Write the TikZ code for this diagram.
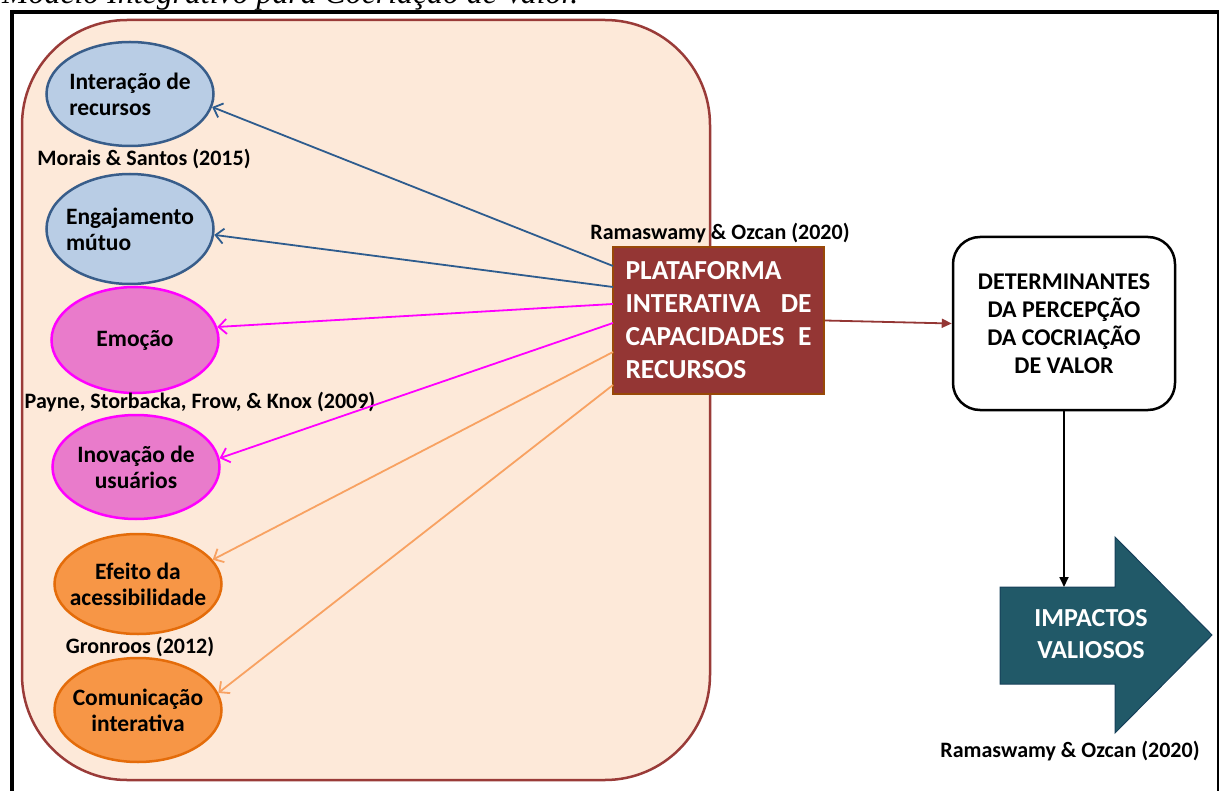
\documentclass[tikz,border=0pt]{standalone}
\usepackage{fontspec}
\usepackage{graphicx}
\setmainfont{Carlito}
\newfontfamily\capfont{Liberation Serif}
\usetikzlibrary{arrows.meta,shapes.geometric}
\definecolor{rectfill}{HTML}{FDE9D9}
\definecolor{rectdraw}{HTML}{9A3B38}
\definecolor{bluefill}{HTML}{B9CDE5}
\definecolor{bluedraw}{HTML}{385D8A}
\definecolor{blueline}{HTML}{2E5C8E}
\definecolor{pinkfill}{HTML}{E97BCB}
\definecolor{pinkdraw}{HTML}{FF00FF}
\definecolor{orangefill}{HTML}{F79646}
\definecolor{orangedraw}{HTML}{E46C0A}
\definecolor{orangeline}{HTML}{F8A262}
\definecolor{platfill}{HTML}{943634}
\definecolor{platdraw}{HTML}{984807}
\definecolor{tealfill}{HTML}{215968}
\definecolor{tealdraw}{HTML}{17405A}
\begin{document}
\begin{tikzpicture}[x=1pt,y=-1pt,
  ell/.style={ellipse, line width=2.5pt, inner sep=0pt, minimum width=167pt},
  blueell/.style={ell, draw=bluedraw, fill=bluefill},
  pinkell/.style={ell, draw=pinkdraw, fill=pinkfill},
  orangeell/.style={ell, draw=orangedraw, fill=orangefill},
  elltext/.style={inner sep=0pt, align=center, font=\fontsize{23.5}{26}\selectfont\bfseries},
  lbl/.style={inner sep=0pt, font=\fontsize{22}{24}\selectfont\bfseries},
  conn/.style={line width=1.8pt, -{Straight Barb[length=8pt,width=15pt,line width=1.8pt]}},
  platbox/.style={rectangle, fill=platfill, draw=platdraw, line width=2pt,
    minimum width=211pt, minimum height=147pt, text width=186pt, inner sep=0pt,
    align=left, text=white, font=\fontsize{27.5}{33}\selectfont\bfseries},
  detbox/.style={rectangle, rounded corners=27pt, draw=black, fill=white, line width=2.5pt,
    minimum width=222pt, minimum height=173pt, inner sep=0pt, align=center,
    font=\fontsize{24}{28}\selectfont\bfseries},
  solidarrow/.style={line width=1.8pt, -{Triangle[length=10pt,width=9pt]}}
]
\useasboundingbox (0,0) rectangle (1220,791);
% caption (cut off at top)
\node[anchor=base west, inner sep=0pt] (cap) at (2,4)
  {\resizebox{576pt}{!}{\capfont\itshape Modelo Integrativo para Cocriação de Valor.}};
% outer frame
\draw[line width=4pt] (10,12) -- (1219,12);
\draw[line width=4pt] (12,10) -- (12,800);
\draw[line width=2pt] (1218,11) -- (1218,800);
% panel
\draw[draw=rectdraw, fill=rectfill, line width=2.5pt, rounded corners=105pt] (22,20) rectangle (710,780);
% ellipses
\node[blueell, minimum height=104pt] (e1) at (130,94) {};
\node[blueell, minimum height=110pt] (e2) at (130,229) {};
\node[pinkell, minimum height=106pt] (e3) at (135,340) {};
\node[pinkell, minimum height=104pt] (e4) at (136,467) {};
\node[orangeell, minimum height=100pt] (e5) at (138,584) {};
\node[orangeell, minimum height=104pt] (e6) at (138,710) {};
\node[elltext, align=left] (t1) at (e1.center) {Interação de\\recursos};
\node[elltext, align=left] (t2) at (e2.center) {Engajamento\\mútuo};
\node[elltext] (t3) at (e3.center) {Emoção};
\node[elltext] (t4) at (e4.center) {Inovação de\\usuários};
\node[elltext] (t5) at (e5.center) {Efeito da\\acessibilidade};
\node[elltext] (t6) at (e6.center) {Comunicação\\interativa};
% labels
\node[lbl] (l1) at (144,159) {Morais \& Santos (2015)};
\node[lbl] (l2) at (720,233) {Ramaswamy \& Ozcan (2020)};
\node[lbl] (l3) at (200,402) {Payne, Storbacka, Frow, \& Knox (2009)};
\node[lbl] (l4) at (140,647) {Gronroos (2012)};
\node[lbl] (l5) at (1070,751) {Ramaswamy \& Ozcan (2020)};
% platform
\node[platbox] (plat) at (718.5,320.5) {PLATAFORMA\\INTERATIVA\hfill DE\\CAPACIDADES\hfill E\\RECURSOS};
\coordinate (s1) at (613,266);
\coordinate (s2) at (613,287);
\coordinate (s3) at (613,304);
\coordinate (s4) at (613,323);
\coordinate (s5) at (613,352);
\coordinate (s6) at (613,385);
\draw[conn, draw=blueline] (s1) -- (e1.-9);
\draw[conn, draw=blueline] (s2) -- (e2.-4);
\draw[conn, draw=pinkdraw] (s3) -- (e3.9);
\draw[conn, draw=pinkdraw] (s4) -- (e4.6);
\draw[conn, draw=orangeline] (s5) -- (e5.18);
\draw[conn, draw=orangeline] (s6) -- (e6.12);
% determinants
\node[detbox] (det) at (1064,323.5) {DETERMINANTES\\DA PERCEPÇÃO\\DA COCRIAÇÃO\\DE VALOR};
\draw[solidarrow, draw=platfill, fill=platfill] (plat.east) -- (det.west);
% big arrow
\draw[fill=tealfill, draw=tealdraw, line width=1pt]
  (1000,587) -- (1115,587) -- (1115,537) -- (1212,635) -- (1115,733) -- (1115,684) -- (1000,684) -- cycle;
\node[text=white, align=center, inner sep=0pt, font=\fontsize{26}{32}\selectfont\bfseries] (imp) at (1091,634) {IMPACTOS\\VALIOSOS};
\coordinate (impTop) at (1064,587);
\draw[solidarrow] (det.south) -- (impTop);
\end{tikzpicture}
\end{document}
